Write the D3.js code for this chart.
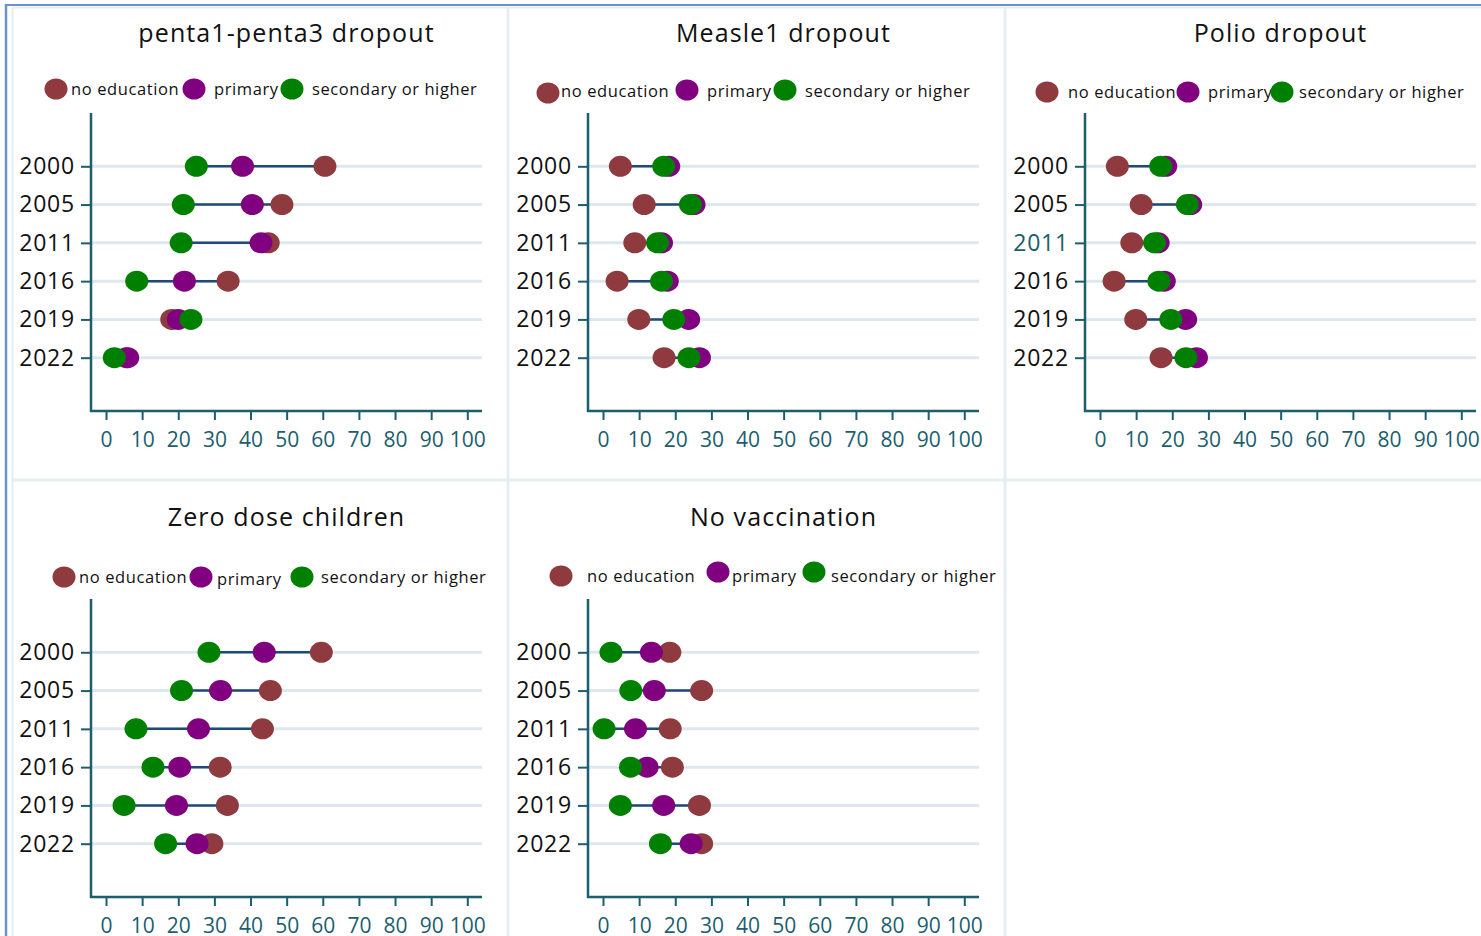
<!DOCTYPE html>
<html><head><meta charset="utf-8">
<script src="https://cdn.jsdelivr.net/npm/d3@7"></script>
<style>
html,body{margin:0;padding:0;background:#fff;}
svg{display:block;font-family:"Open Sans",sans-serif;}
</style></head>
<body>
<svg id="chart" width="1481" height="936"></svg>
<script>
// ---------- DATA ----------
const years = ["2000","2005","2011","2016","2019","2022"];
const xTicks = [0,10,20,30,40,50,60,70,80,90,100];
const groupNames = ["no education","primary","secondary or higher"];
const panelTitles = ["penta1-penta3 dropout","Measle1 dropout","Polio dropout","Zero dose children","No vaccination"];

const pentaNoEdu     = [60.6, 48.7, 44.9, 33.8, 18.2, 5.6];
const pentaPrimary   = [37.8, 40.5, 42.9, 21.7, 20.0, 6.0];
const pentaSecondary = [25.0, 21.4, 20.8,  8.5, 23.5, 2.3];

const measleNoEdu     = [4.8, 11.4, 8.8, 3.9,  9.9, 16.9];
const measlePrimary   = [18.2, 25.2, 16.2, 17.8, 23.7, 26.7];
const measleSecondary = [16.8, 24.2, 15.1, 16.2, 19.6, 23.8];

const polioNoEdu     = [4.8, 11.4, 8.8, 3.9,  9.9, 16.9];
const polioPrimary   = [18.2, 25.1, 16.1, 17.8, 23.7, 26.7];
const polioSecondary = [16.8, 24.2, 15.1, 16.3, 19.6, 23.8];

const zeroNoEdu     = [59.6, 45.5, 43.3, 31.6, 33.6, 29.3];
const zeroPrimary   = [43.8, 31.7, 25.6, 20.4, 19.5, 25.2];
const zeroSecondary = [28.5, 20.9,  8.3, 13.0,  5.0, 16.5];

const novacNoEdu     = [18.5, 27.3, 18.6, 19.2, 26.7, 27.3];
const novacPrimary   = [13.4, 14.2,  9.0, 12.2, 16.8, 24.4];
const novacSecondary = [ 2.2,  7.7,  0.3,  7.6,  4.8, 15.9];

const groupColors = ["#8e3a3e","#800080","#008000"];

// ---------- LAYOUT ----------
const panels = [
  {title:panelTitles[0], series:[pentaNoEdu,pentaPrimary,pentaSecondary], col:0,row:0,
   legend:{dots:[[56,89],[194,89],[292,89]], texts:[[71,95],[214,95],[312,95]]}},
  {title:panelTitles[1], series:[measleNoEdu,measlePrimary,measleSecondary], col:1,row:0,
   legend:{dots:[[51,93],[190,90],[288,90]], texts:[[64,97],[210,97],[308,97]]}},
  {title:panelTitles[2], series:[polioNoEdu,polioPrimary,polioSecondary], col:2,row:0,
   legend:{dots:[[53,92],[194,92],[288,92]], texts:[[74,98],[214,98],[305,98]]}},
  {title:panelTitles[3], series:[zeroNoEdu,zeroPrimary,zeroSecondary], col:0,row:1,
   legend:{dots:[[64,91],[201,91],[302,91]], texts:[[79,97],[217,99],[321,97]]}},
  {title:panelTitles[4], series:[novacNoEdu,novacPrimary,novacSecondary], col:1,row:1,
   legend:{dots:[[64,90],[221,86],[317,86]], texts:[[90,96],[235,96],[334,96]]}}
];
const colOff = [0,497,994], rowOff = [0,486];

const svg = d3.select("#chart");
const axisColor = "#1b5e6d";
const sepColor = "#e5eef2";

// panel separators / frame
svg.append("line").attr("x1",12.5).attr("x2",12.5).attr("y1",7).attr("y2",936).attr("stroke",sepColor).attr("stroke-width",2);
svg.append("line").attr("x1",12).attr("x2",1481).attr("y1",7.5).attr("y2",7.5).attr("stroke",sepColor).attr("stroke-width",2);
svg.append("line").attr("x1",508).attr("x2",508).attr("y1",7).attr("y2",936).attr("stroke",sepColor).attr("stroke-width",3);
svg.append("line").attr("x1",1005).attr("x2",1005).attr("y1",7).attr("y2",936).attr("stroke",sepColor).attr("stroke-width",3);
svg.append("line").attr("x1",12).attr("x2",1481).attr("y1",480).attr("y2",480).attr("stroke",sepColor).attr("stroke-width",3);
svg.append("line").attr("x1",6).attr("x2",1481).attr("y1",5).attr("y2",5).attr("stroke","#6a92cf").attr("stroke-width",2);
svg.append("line").attr("x1",6).attr("x2",6).attr("y1",4).attr("y2",936).attr("stroke","#6a92cf").attr("stroke-width",2.5);

panels.forEach((p,pi)=>{
  const g = svg.append("g").attr("transform",`translate(${colOff[p.col]},${rowOff[p.row]})`);
  const axisX = 91, gridEnd = 482, yTop = 113, yBottom = 411;
  const x = d3.scaleLinear().domain([0,100]).range([106,467.3]);
  const y = d3.scalePoint().domain(years).range([166.3,357.7]);

  // title
  g.append("text").attr("x",(axisX+gridEnd)/2).attr("y",p.row===0?42:40)
    .attr("text-anchor","middle").attr("font-size",25).attr("letter-spacing","1.1px").attr("fill","#111")
    .text(p.title);

  // legend
  groupNames.forEach((name,i)=>{
    g.append("ellipse").attr("cx",p.legend.dots[i][0]).attr("cy",p.legend.dots[i][1])
      .attr("rx",11.5).attr("ry",10.5).attr("fill",groupColors[i]);
    g.append("text").attr("x",p.legend.texts[i][0]).attr("y",p.legend.texts[i][1])
      .attr("font-size",16.5).attr("letter-spacing","0.6px").attr("fill","#111").text(name);
  });

  // grid lines
  g.selectAll(".grid").data(years).enter().append("line")
    .attr("x1",axisX).attr("x2",gridEnd)
    .attr("y1",d=>y(d)).attr("y2",d=>y(d))
    .attr("stroke","#dde8ee").attr("stroke-width",3);

  // y axis
  const yAxis = d3.axisLeft(y).tickSize(10).tickPadding(6);
  const ya = g.append("g").attr("transform",`translate(${axisX},0)`).call(yAxis);
  ya.select(".domain").remove();
  ya.selectAll(".tick line").attr("stroke",axisColor).attr("stroke-width",2);
  ya.selectAll(".tick text").attr("font-size",23).attr("letter-spacing","0.8px")
    .attr("fill",d=>(pi===2&&d==="2011")?axisColor:"#111")
    .attr("font-family","Open Sans, sans-serif");
  g.append("line").attr("x1",axisX).attr("x2",axisX).attr("y1",yTop).attr("y2",yBottom+1)
    .attr("stroke",axisColor).attr("stroke-width",2.5);

  // x axis
  const xAxis = d3.axisBottom(x).tickValues(xTicks).tickSize(9).tickPadding(12);
  const xa = g.append("g").attr("transform",`translate(0,${yBottom})`).call(xAxis);
  xa.select(".domain").remove();
  xa.selectAll(".tick line").attr("stroke",axisColor).attr("stroke-width",2);
  xa.selectAll(".tick text").attr("font-size",21).attr("fill",axisColor)
    .attr("font-family","Open Sans, sans-serif");
  g.append("line").attr("x1",axisX-1).attr("x2",gridEnd).attr("y1",yBottom).attr("y2",yBottom)
    .attr("stroke",axisColor).attr("stroke-width",2.5);

  // range lines
  const rows = years.map((yr,i)=>({yr, vals:p.series.map(s=>s[i])}));
  g.selectAll(".rng").data(rows).enter().append("line")
    .attr("x1",d=>x(d3.min(d.vals))).attr("x2",d=>x(d3.max(d.vals)))
    .attr("y1",d=>y(d.yr)).attr("y2",d=>y(d.yr))
    .attr("stroke","#1f4a78").attr("stroke-width",2.5);

  // dots
  p.series.forEach((s,si)=>{
    g.selectAll(".dot"+si).data(s).enter().append("ellipse")
      .attr("cx",d=>x(d)).attr("cy",(d,i)=>y(years[i]))
      .attr("rx",11.5).attr("ry",10.5).attr("fill",groupColors[si]);
  });
});
</script>
</body></html>
